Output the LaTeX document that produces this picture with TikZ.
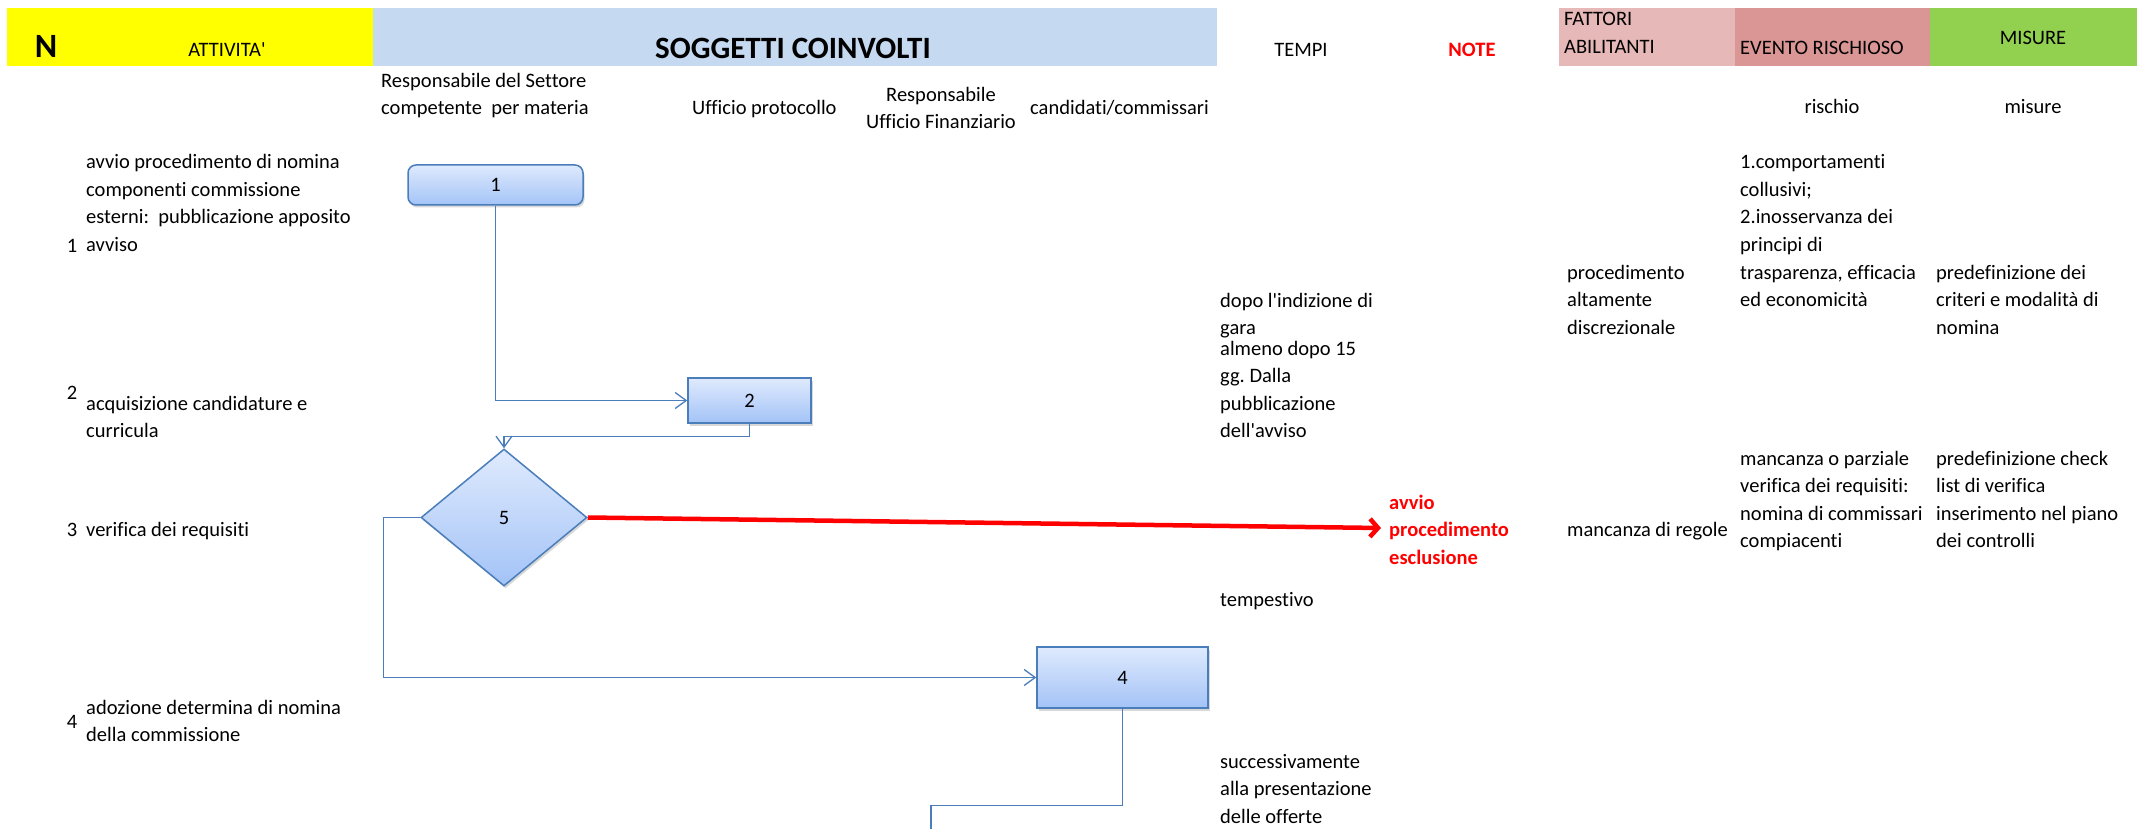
\documentclass[tikz,border=0pt]{standalone}
\usepackage{fontspec}
\setmainfont{Carlito}[Ligatures=NoCommon]
\usetikzlibrary{arrows.meta,shapes.geometric,shadows}

\definecolor{hdryellow}{HTML}{FFFF00}
\definecolor{hdrblue}{HTML}{C5D9F1}
\definecolor{hdrpink}{HTML}{E6B8B7}
\definecolor{hdrrose}{HTML}{DA9694}
\definecolor{hdrgreen}{HTML}{92D050}
\definecolor{flowline}{HTML}{4A7EBB}
\definecolor{fillTop}{HTML}{DFEAFD}
\definecolor{fillBot}{HTML}{A3C3F7}
\definecolor{alertred}{HTML}{FF0000}

\newcommand\bodyfont{\fontsize{20.5}{27.5}\selectfont}
\newcommand\apos{\textquotesingle}
\frenchspacing

\tikzset{
  txt/.style={anchor=base west, inner sep=0pt, font=\bodyfont},
  ctxt/.style={anchor=base, inner sep=0pt, font=\bodyfont},
  band/.style={anchor=north west, inner sep=0pt, draw=none},
  flowbox/.style={draw=flowline, line width=1.5pt, top color=fillTop, bottom color=fillBot,
    drop shadow={opacity=0.3, shadow xshift=1.5pt, shadow yshift=-2.5pt},
    font=\bodyfont, inner sep=0pt},
  link/.style={draw=flowline, line width=1.3pt},
  flow/.style={link, -{Straight Barb[length=11pt,width=16pt]}},
  redarrow/.style={draw=alertred, line width=4.5pt, -{Straight Barb[length=8pt,width=18pt]}},
}

% stack of text lines, one node per line: name, x, first baseline, {{line},{line},...}
\newcommand\textlines[4]{%
  \foreach \ln [count=\k from 0] in {#4}{%
    \node[txt] (#1-\k) at (#2,{#3+27.5*\k}) {\ln};
  }%
}

\begin{document}
\begin{tikzpicture}[x=1pt,y=-1pt]
\useasboundingbox (0,0) rectangle (2144,829);
\fill[white] (0,0) rectangle (2144,829);

% header bands
\node[band, fill=hdryellow, minimum width=366pt, minimum height=58pt] (hdrN) at (7,8) {};
\node[band, fill=hdrblue, minimum width=844pt, minimum height=58pt] (hdrSog) at (373,8) {};
\node[band, fill=hdrpink, minimum width=176pt, minimum height=58pt] (hdrFat) at (1559,8) {};
\node[band, fill=hdrrose, minimum width=195pt, minimum height=58pt] (hdrEve) at (1735,8) {};
\node[band, fill=hdrgreen, minimum width=207pt, minimum height=58pt] (hdrMis) at (1930,8) {};

% header texts
\node[anchor=base, inner sep=0pt, font=\fontsize{34}{36}\selectfont\bfseries] (tN) at (46,58) {N};
\node[ctxt] (tAtt) at (227,56.5) {ATTIVITA\apos};
\node[anchor=base, inner sep=0pt, font=\fontsize{31}{34}\selectfont\bfseries] (tSog) at (793,58.5) {SOGGETTI COINVOLTI};
\node[ctxt] (tTem) at (1301,56.5) {TEMPI};
\node[ctxt, text=alertred, font=\bodyfont\bfseries] (tNote) at (1472,56.5) {NOTE};
\node[txt] (tFat1) at (1564,25.5) {FATTORI};
\node[txt] (tFat2) at (1564,53.5) {ABILITANTI};
\node[txt] (tEve) at (1740,54.5) {EVENTO RISCHIOSO};
\node[ctxt] (tMis) at (2033,44.5) {MISURE};

% subject columns
\node[txt] (sRes1) at (381,88) {Responsabile del Settore};
\node[txt] (sRes2) at (381,115) {competente~ per materia};
\node[txt] (sUff) at (692,115) {Ufficio protocollo};
\node[ctxt] (sFin1) at (941,102) {Responsabile};
\node[ctxt] (sFin2) at (941,129) {Ufficio Finanziario};
\node[txt] (sCand) at (1030,115) {candidati/commissari};
\node[ctxt] (sRis) at (1832,114) {rischio};
\node[ctxt] (sMis) at (2033,114) {misure};

% activities
\node[ctxt] (n1) at (72,252) {1};
\textlines{a1}{86}{169}{{avvio procedimento di nomina},{componenti commissione},{esterni:~ pubblicazione apposito},{avviso}}
\node[ctxt] (n2) at (72,399) {2};
\textlines{a2}{86}{410}{{acquisizione candidature e},{curricula}}
\node[ctxt] (n3) at (72,536) {3};
\node[txt] (a3) at (86,536) {verifica dei requisiti};
\node[ctxt] (n4) at (72,728) {4};
\textlines{a4}{86}{714}{{adozione determina di nomina},{della commissione}}

% timing
\textlines{tA}{1220}{307}{{dopo l\apos indizione di},{gara}}
\textlines{tB}{1220}{355}{{almeno dopo 15},{gg. Dalla},{pubblicazione},{dell\apos avviso}}
\node[txt] (tC) at (1220,606) {tempestivo};
\textlines{tD}{1220}{768}{{successivamente},{alla presentazione},{delle offerte}}

% notes
\foreach \ln [count=\k from 0] in {avvio,procedimento,esclusione}{
  \node[txt, text=alertred, font=\bodyfont\bfseries] (nt-\k) at (1389,{509+27.5*\k}) {\ln};
}

% enabling factors
\textlines{fA}{1567}{279}{{procedimento},{altamente},{discrezionale}}
\node[txt] (fB) at (1567,536) {mancanza di regole};

% risk events
\textlines{eA}{1740}{169}{{1.comportamenti},{collusivi;},{2.inosservanza dei},{principi di},{trasparenza, efficacia},{ed economicità}}
\textlines{eB}{1740}{465}{{mancanza o parziale},{verifica dei requisiti:},{nomina di commissari},{compiacenti}}

% measures
\textlines{mA}{1936}{279}{{predefinizione dei},{criteri e modalità di},{nomina}}
\textlines{mB}{1936}{465}{{predefinizione check},{list di verifica},{inserimento nel piano},{dei controlli}}

% flow shapes
\node[flowbox, rounded corners=8pt, minimum width=175pt, minimum height=40pt] (b1) at (495.5,185) {1};
\node[flowbox, minimum width=123pt, minimum height=45pt] (b2) at (749.5,400.5) {2};
\node[flowbox, diamond, aspect=1.2, minimum width=166pt, minimum height=137pt] (d5) at (504,517.5) {5};
\node[flowbox, minimum width=171pt, minimum height=61pt] (b4) at (1122.5,677.5) {4};

\coordinate (exit) at (931,835);
\coordinate (redtip) at (1381,528);

% connectors
\draw[flow] (b1.south) |- (b2.west);
\draw[flow] (b2.south) -- ++(0,13) -| (d5.north);
\draw[flow] (d5.west) -- ++(-37,0) |- (b4.west);
\draw[link] (b4.south) -- ++(0,97) -| (exit);
\draw[redarrow] (d5.east) -- (redtip);
\end{tikzpicture}
\end{document}
